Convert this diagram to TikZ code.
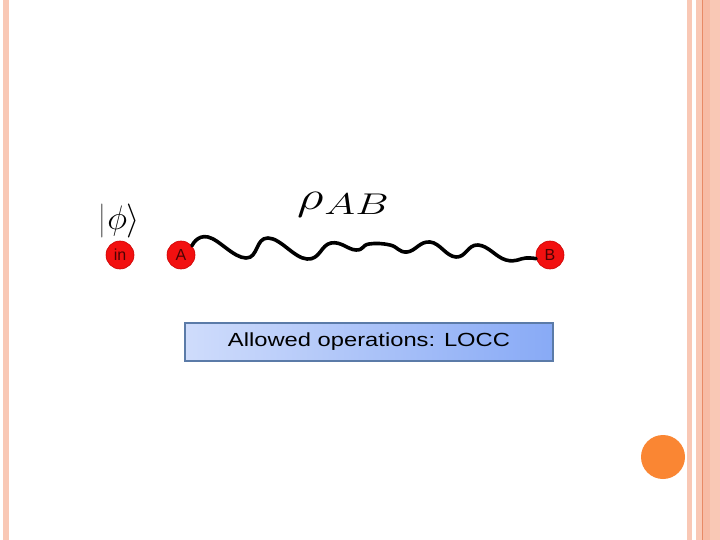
\RequirePackage{fix-cm}
\documentclass[tikz,border=0pt]{standalone}
\usepackage{fontspec}
\setsansfont{Liberation Sans}
\definecolor{stripe}{HTML}{F9C8B5}
\definecolor{stripedark}{HTML}{F7BBA5}
\definecolor{stripeline}{HTML}{E88A66}
\definecolor{dotorange}{HTML}{FA8633}
\definecolor{boxedge}{HTML}{5B7BA8}
\definecolor{boxleft}{HTML}{CFDCFB}
\definecolor{boxright}{HTML}{88AAF6}
\definecolor{ballred}{HTML}{F21010}
\definecolor{balltext}{HTML}{4A0303}
\tikzset{
  ball/.style={circle, fill=ballred, draw=red!80!black, line width=0.6pt, minimum size=28pt, inner sep=0pt,
    font=\sffamily\fontsize{16}{16}\selectfont, text=balltext},
  wave/.style={line width=3.6pt, line cap=round, line join=round},
  opsbox/.style={draw=boxedge, line width=1.5pt, left color=boxleft, right color=boxright,
    minimum width=368pt, minimum height=38pt, inner sep=0pt,
    font=\sffamily\fontsize{19}{19}\selectfont}
}
\begin{document}
\begin{tikzpicture}[x=1pt,y=-1pt]
\useasboundingbox (0,0) rectangle (720,540);
\fill[white] (0,0) rectangle (720,540);
% slide decoration
\fill[stripe] (3,0) rectangle (9,540);
\fill[stripe] (687,0) rectangle (692,540);
\fill[stripe] (696,0) rectangle (720,540);
\fill[stripedark] (703,0) rectangle (710,540);
\draw[stripeline, line width=0.8pt] (702.5,0) -- (702.5,540);
\fill[dotorange] (663,457) circle (22);
% ket
\node (ket) at (119,221) {\fontsize{34}{34}\selectfont$\textcolor{black!55}{|}\phi\rangle$};
% rho
\node[anchor=base west, inner sep=0pt] (rho) at (297,210) {\scalebox{1.3}[1]{\fontsize{40}{42}\selectfont$\rho$}\hspace{1pt}\raisebox{-5pt}{\scalebox{1.4}[1]{\fontsize{30}{32}\selectfont$AB$}}};
% balls
\node[ball] (in) at (120,255) {in};
\node[ball] (A) at (181,255) {A};
\node[ball] (B) at (550,255) {B};
% wave
\draw[wave] plot[smooth, tension=0.75] coordinates {(A.40) (208,237) (246,258) (268,238) (307,259) (331,243) (356,250) (369,244) (390,245) (407,252) (430,242) (456,257) (478,245) (506,260) (526,258) (B.195)};
% box
\node[opsbox] (ops) at (369,342) {\scalebox{1.25}[1]{Allowed operations: LOCC}};
\end{tikzpicture}
\end{document}
